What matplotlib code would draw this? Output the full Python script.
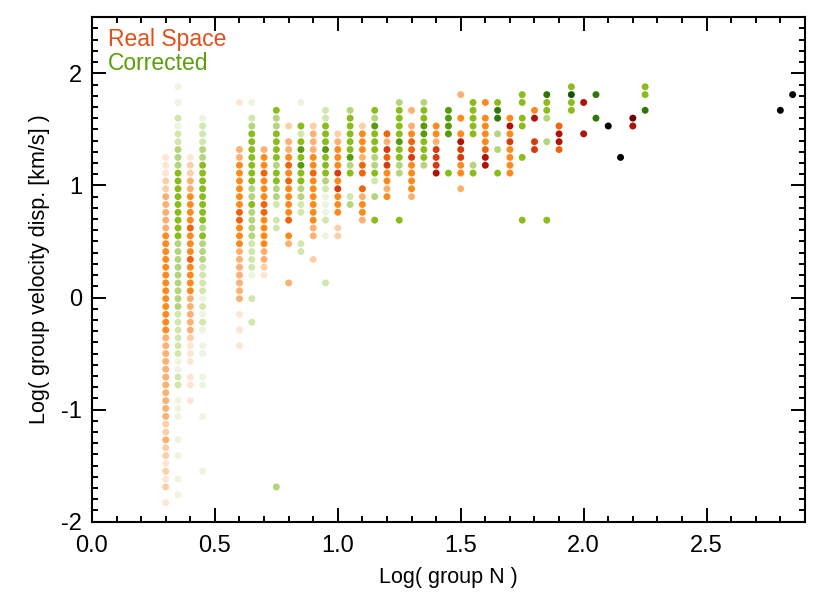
import matplotlib
matplotlib.use("Agg")
import matplotlib.pyplot as plt
from matplotlib.ticker import MultipleLocator, FormatStrFormatter

plt.rcParams['font.family'] = ['Liberation Sans', 'DejaVu Sans']

# y bins: centre of bin k is k*BIN_DY + BIN_Y0
BIN_DY = 0.07
BIN_Y0 = -0.01

# each column: x, lowest bin index, shade per bin going up (0 = empty, 9 = black)
real_x = [0.30, 0.40, 0.60, 0.70, 0.80, 0.90, 1.00, 1.10, 1.20, 1.30, 1.40, 1.50,
          1.60, 1.70, 1.80, 1.90, 2.00, 2.10, 2.20, 2.80]
real_kmin = [-26, -13, -6, 3, 2, 5, 8, 10, 13, 13, 16, 14,
             17, 16, 19, 19, 21, 22, 22, 24]
real_shade = [
    "1021212232" + "2333333333" + "3344444444" + "4444433333" + "22111",
    "1011011123" + "3333444454" + "4454444332" + "21",
    "1010103333" + "3334445544" + "4444330000" + "01",
    "1233444455" + "4445443",
    "3000034054" + "4445454330" + "2",
    "200334444445443332",
    "22044464644432",
    "3443505534442",
    "434465635",
    "344446554303",
    "7666344",
    "3044667404003",
    "775444404",
    "44446474",
    "660074",
    "5775",
    "70007",
    "9",
    "78",
    "9",
]

corr_x = [0.35, 0.45, 0.65, 0.75, 0.85, 0.95, 1.05, 1.15, 1.25, 1.35, 1.45, 1.55,
          1.65, 1.75, 1.85, 1.95, 2.05, 2.15, 2.25, 2.85]
corr_kmin = [-25, -22, -3, -24, 6, 2, 12, 10, 10, 17, 16, 16,
             16, 10, 10, 24, 23, 18, 24, 26]
corr_shade = [
    "1010010100" + "1110221122" + "2222333333" + "3334444444" + "4433322120" + "101",
    "1000000100" + "0110011012" + "1212222333" + "4344444444" + "332221",
    "2002001222" + "2333343344" + "444443201",
    "3" + "0" * 32 + "2202334434444334",
    "2200022334" + "4545424001",
    "20000010211123444544422",
    "3200435444443",
    "400302433444534",
    "4000003344544443",
    "344455443",
    "400005555",
    "4300044444",
    "4003030664",
    "40000000400044044",
    "40000000003003446",
    "4474",
    "6006",
    "9",
    "6044",
    "9",
]

real_colors = ['#ffffff', '#fde6d2', '#fdcfa6', '#fdb070', '#ff8a1c', '#f2640c',
               '#d63c0b', '#b01208', '#6e0000', '#000000']
corr_colors = ['#ffffff', '#edf4df', '#d3e7ad', '#b5d57c', '#8abd1c', '#579b0b',
               '#2f7806', '#125400', '#073300', '#000000']


def collect(xs, kmins, shades, palette):
    px, py, pc = [], [], []
    for x, k0, s in zip(xs, kmins, shades):
        for i, ch in enumerate(s):
            lev = int(ch)
            if lev == 0:
                continue
            px.append(x)
            py.append((k0 + i) * BIN_DY + BIN_Y0)
            pc.append(palette[lev])
    return px, py, pc


fig = plt.figure(figsize=(8.3, 6.0), dpi=100)
ax = fig.add_axes([0.1108, 0.1305, 0.859, 0.8407])

rx, ry, rc = collect(real_x, real_kmin, real_shade, real_colors)
cx, cy, cc = collect(corr_x, corr_kmin, corr_shade, corr_colors)
ax.scatter(rx, ry, s=25, c=rc, linewidths=0)
ax.scatter(cx, cy, s=25, c=cc, linewidths=0)

ax.set_xlim(0.0, 2.9)
ax.set_ylim(-2.0, 2.5)
ax.xaxis.set_major_locator(MultipleLocator(0.5))
ax.xaxis.set_minor_locator(MultipleLocator(0.1))
ax.yaxis.set_major_locator(MultipleLocator(1))
ax.yaxis.set_minor_locator(MultipleLocator(0.1))
ax.xaxis.set_major_formatter(FormatStrFormatter('%.1f'))
ax.yaxis.set_major_formatter(FormatStrFormatter('%d'))
ax.tick_params(which='both', direction='in', top=True, right=True, width=1.4,
               labelsize=17, colors='black')
ax.tick_params(which='major', length=10)
ax.tick_params(axis='x', which='major', pad=9.5)
ax.tick_params(axis='y', which='major', pad=7)
ax.tick_params(which='minor', length=4.5)
for sp in ax.spines.values():
    sp.set_linewidth(1.5)

ax.set_xlabel('Log( group N )', fontsize=15.5, labelpad=7)
ax.set_ylabel('Log( group velocity disp. [km/s] )', fontsize=15.5, labelpad=8)

ax.text(0.0224, 0.956, 'Real Space', transform=ax.transAxes, fontsize=16.5,
        color='#e0501a', va='center', ha='left')
ax.text(0.0224, 0.909, 'Corrected', transform=ax.transAxes, fontsize=16.5,
        color='#5a9e0c', va='center', ha='left')

fig.savefig('out.png', dpi=100)
